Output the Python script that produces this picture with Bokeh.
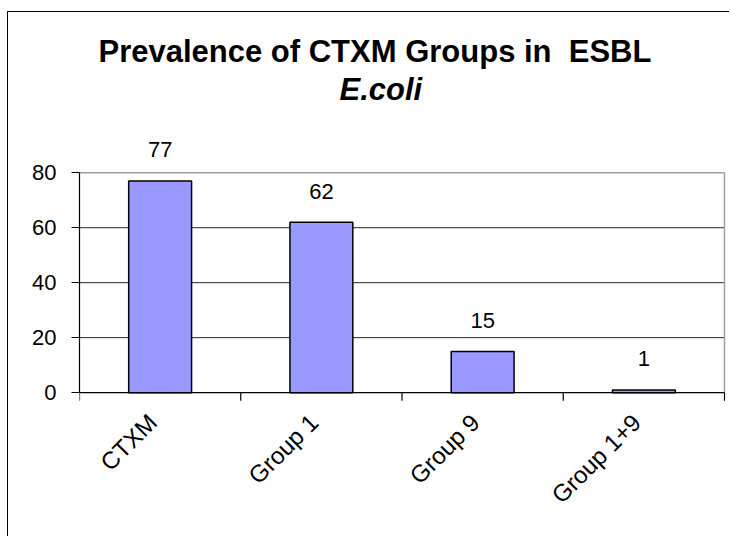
import math
from bokeh.plotting import figure
from bokeh.models import ColumnDataSource, Title, FixedTicker, Range1d
from bokeh.core.properties import value
from bokeh.embed import file_html
from bokeh.resources import INLINE

categories = ["CTXM", "Group 1", "Group 9", "Group 1+9"]
values = [77, 62, 15, 1]
y_ticks = [0, 20, 40, 60, 80]
title_main = "Prevalence of CTXM Groups in \u00a0ESBL"
title_sub = "E.coli"

FONT = "Liberation Sans"
N = len(categories)
YMAX = y_ticks[-1]

# layout (pixels)
PX_X = 161.25          # pixels per category
PX_Y = 2.7488          # pixels per y unit
TICK = 8               # tick length
LAB_DX, LAB_DY = -17, 16   # rotated label anchor relative to category centre

xs = [i + 0.5 for i in range(N)]
src = ColumnDataSource(dict(x=xs, top=values, lab=[str(v) for v in values]))
cat_src = ColumnDataSource(dict(x=[x + LAB_DX / PX_X for x in xs],
                                y=[-LAB_DY / PX_Y] * N, cat=categories))

p = figure(width=722, height=525, output_backend="svg", toolbar_location=None,
           x_range=Range1d(0, N + 2 / PX_X), y_range=Range1d(-52.7, 95),
           x_axis_location=None,
           min_border_left=71, min_border_right=4, min_border_top=119,
           min_border_bottom=0, title=None)
p.margin = (11, 0, 0, 7)
p.styles = {"border-top": "1px solid black", "border-left": "1px solid black"}
p.outline_line_color = None
p.grid.visible = False

# horizontal grid lines (20..60 dark, 80 grey as plot-area border)
inner = y_ticks[1:-1]
p.segment(x0=[0] * len(inner), x1=[N] * len(inner), y0=inner, y1=inner,
          line_color="#262626", line_width=1)
p.segment(x0=[0, N], x1=[N, N], y0=[YMAX, 0], y1=[YMAX, YMAX],
          line_color="#a0a0a0", line_width=1.5)

# x axis line and tick marks at category boundaries
bounds = list(range(N + 1))
p.segment(x0=[0], x1=[N], y0=[0], y1=[0], line_color="black", line_width=1.2)
p.segment(x0=bounds, x1=bounds, y0=[0] * (N + 1),
          y1=[-TICK / PX_Y] * (N + 1), line_color="black", line_width=1.2)

# bars
p.vbar(x="x", top="top", width=0.39, source=src, fill_color="#9999FF",
       line_color="black", line_width=1.5)

# value labels
p.text(x="x", y="top", text="lab", source=src, text_align="center",
       text_baseline="alphabetic", y_offset=-31, text_font=value(FONT),
       text_font_size="22px", text_color="black")

# category labels (rotated)
p.text(x="x", y="y", text="cat", source=cat_src, angle=math.pi / 4,
       text_align="right", text_baseline="top",
       text_font=value(FONT), text_font_size="24px", text_color="black")

# y axis
ya = p.yaxis[0]
ya.bounds = (0, YMAX)
ya.ticker = FixedTicker(ticks=y_ticks)
ya.major_tick_out = TICK
ya.major_tick_in = 0
ya.minor_tick_out = 0
ya.minor_tick_in = 0
ya.axis_line_color = "black"
ya.axis_line_width = 1.2
ya.major_tick_line_color = "black"
ya.major_label_text_font = FONT
ya.major_label_text_font_size = "22px"
ya.major_label_text_color = "black"
ya.major_label_standoff = 15

# titles (first added sits nearest the plot)
p.add_layout(Title(text=" ", text_font=FONT, text_font_size="10px",
                   standoff=12), "above")
p.add_layout(Title(text=title_sub, text_font=FONT, text_font_size="31px",
                   text_font_style="bold italic", align="left", offset=260,
                   standoff=0, text_color="black"), "above")
p.add_layout(Title(text=title_main, text_font=FONT, text_font_size="31px",
                   text_font_style="bold", align="left", offset=19,
                   standoff=2, text_color="black"), "above")

open("out.html", "w").write(file_html(p, INLINE))
